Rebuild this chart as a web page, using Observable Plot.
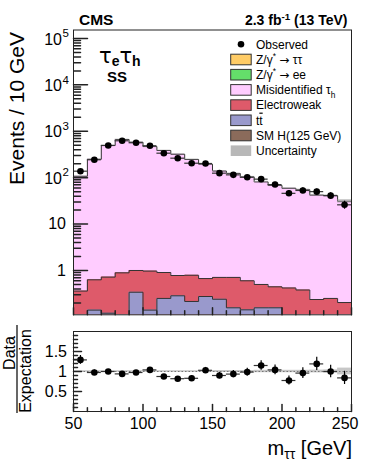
<!DOCTYPE html>
<html><head><meta charset="utf-8">
<script src="https://cdn.jsdelivr.net/npm/d3@7"></script>
<script src="https://cdn.jsdelivr.net/npm/@observablehq/plot@0.6"></script>
<style>
html,body{margin:0;padding:0;background:#fff;}
#chart{position:relative;width:366px;height:463px;font-family:"Liberation Sans",Arial,Helvetica,sans-serif;}
#chart svg{position:absolute;left:0;overflow:visible;}
</style></head><body><div id="chart"></div>
<script>
// ---- data ----
const binLow  = [50,60,70,80,90,100,110,120,130,140,150,160,170,180,190,200,210,220,230,240];
const binHigh = [60,70,80,90,100,110,120,130,140,150,160,170,180,190,200,210,220,230,240,250];
const misid       = [106.6,248,493,663,579,467,384,319,246,195,138.3,122.3,103.4,80.5,67.6,58.6,54.6,41.8,40.7,30.8];
const electroweak = [0.36,0.49,0.60,0.89,0.66,0.83,0.655,0.495,0.575,0.395,0.47,0.553,0.458,0.343,0.288,0.42,0.38,0.237,0.25,0.204];
const ttbar       = [0,0.14,0.12,0,0.34,0.14,0.25,0.285,0.215,0.275,0.24,0.157,0.142,0.157,0.157,0,0,0,0,0];
const observed    = [138,243,494,624,565,487,337,263,205,202,125,115,102,93,71,46,53,50,41,26];
const observedErr = [11.7,15.6,22.2,25,23.8,22.1,18.4,16.2,14.3,14.2,11.2,10.7,10.1,9.6,8.4,6.8,7.3,7.1,6.4,5.1];
const ratio       = [1.29,0.975,1.0,0.94,0.975,1.04,0.875,0.82,0.83,1.03,0.9,0.935,0.985,1.15,1.04,0.775,0.96,1.19,1.0,0.84];
const ratioErr    = [0.11,0.063,0.045,0.038,0.041,0.047,0.048,0.051,0.058,0.072,0.08,0.087,0.098,0.119,0.123,0.114,0.132,0.168,0.156,0.165];
const uncRel      = [0.02,0.02,0.02,0.02,0.02,0.02,0.02,0.02,0.02,0.02,0.025,0.025,0.025,0.03,0.03,0.03,0.03,0.035,0.04,0.085];

const yMajor = [1,10,100,1000,10000,100000];
const yPlainLabels = [{v:1,t:"1"},{v:10,t:"10"}];
const yExpLabels = [{v:100,e:"2"},{v:1000,e:"3"},{v:10000,e:"4"},{v:100000,e:"5"}];
const xMajor = [50,100,150,200,250];
const xMinor = [60,70,80,90,110,120,130,140,160,170,180,190,210,220,230,240];
const xLabels = ["50","100","150","200","250"];
const rMajor = [0.5,1,1.5];
const rMinor = [0.1,0.2,0.3,0.4,0.6,0.7,0.8,0.9,1.1,1.2,1.3,1.4,1.6,1.7,1.8,1.9];
const rLabels = ["0.5","1","1.5"];

const colors = {ztt:"#ffcc66", zee:"#64de6a", misid:"#ffccff", ewk:"#de5a6a", tt:"#9999cc", smh:"#8b6b5b", unc:"#b8b8b8"};

// ---- derived table ----
const floor = 1e-3;
const bins = binLow.map((lo,i)=>{
  const tt = ttbar[i], ew = tt + electroweak[i], tot = ew + misid[i];
  return {lo, hi: binHigh[i], c:(lo+binHigh[i])/2, tt, ew, tot,
          obs: observed[i], err: observedErr[i], r: ratio[i], rerr: ratioErr[i], u: uncRel[i]};
});
const stepPts = key => [...bins.map(b=>({x:b.lo, y:Math.max(b[key],floor)})), {x:binHigh[binHigh.length-1], y:Math.max(bins[bins.length-1][key],floor)}];
const tickShape = {draw(ctx, l){ ctx.moveTo(0,0); ctx.lineTo(0,-l); }};
const yMinor = [];
for (const d of [0.1,1,10,100,1000,10000]) for (let k=2;k<=9;k++) yMinor.push(d*k);

const FONT = '"Liberation Sans",Arial,Helvetica,sans-serif';
const root = document.getElementById("chart");

function stackLayer(key, fill){
  return [
    Plot.areaY(stepPts(key),{x:"x",y1:floor,y2:"y",curve:"step-after",fill,clip:true}),
    Plot.line(stepPts(key),{x:"x",y:"y",curve:"step-after",stroke:"#333",strokeWidth:1,clip:true})
  ];
}

// ---- main panel ----
const main = Plot.plot({
  width:366, height:320,
  marginLeft:73, marginRight:15, marginTop:29.5, marginBottom:5.7,
  style:{fontFamily:FONT, fontSize:"16px", color:"#000", background:"transparent"},
  x:{domain:[50,250], axis:null},
  y:{type:"log", domain:[0.111,1.52e5], axis:null},
  marks:[
    ...stackLayer("tot", colors.misid),
    ...stackLayer("ew", colors.ewk),
    ...stackLayer("tt", colors.tt),
    Plot.rect(bins,{x1:"lo",x2:"hi",y1:d=>d.tot*(1-d.u),y2:d=>d.tot*(1+d.u),fill:"#999",fillOpacity:0.55,clip:true}),
    Plot.ruleY(bins,{y:"obs",x1:"lo",x2:"hi",stroke:"#333",strokeWidth:1.2}),
    Plot.ruleX(bins,{x:"c",y1:d=>d.obs-d.err,y2:d=>d.obs+d.err,stroke:"#000",strokeWidth:1.2}),
    Plot.dot(bins,{x:"c",y:"obs",r:3.3,fill:"#000"}),
    Plot.vector(yMajor,{y:d=>d,frameAnchor:"left",length:14,rotate:90,anchor:"start",shape:tickShape,stroke:"#222"}),
    Plot.vector(yMinor,{y:d=>d,frameAnchor:"left",length:7,rotate:90,anchor:"start",shape:tickShape,stroke:"#222",clip:true}),
    Plot.vector(xMajor,{x:d=>d,frameAnchor:"bottom",length:7,rotate:0,anchor:"start",shape:tickShape,stroke:"#222"}),
    Plot.vector(xMinor,{x:d=>d,frameAnchor:"bottom",length:4,rotate:0,anchor:"start",shape:tickShape,stroke:"#222"}),
    Plot.text(yPlainLabels,{y:"v",text:"t",frameAnchor:"left",textAnchor:"end",dx:-7.5,fontSize:16,fill:"#000"}),
    Plot.text(yExpLabels,{y:"v",text:()=>"10",frameAnchor:"left",textAnchor:"end",dx:-11.5,dy:1,fontSize:16,fill:"#000"}),
    Plot.text(yExpLabels,{y:"v",text:"e",frameAnchor:"left",textAnchor:"start",dx:-11,dy:-5,fontSize:11.5,fill:"#000"}),
    Plot.frame({stroke:"#222",strokeWidth:1})
  ]
});
main.style.top = "0px";
root.appendChild(main);

const ms = d3.select(main);
function rich(sel, parts){
  let shift = 0;
  for (const [t,k] of parts){
    const ts = sel.append("tspan").text(t);
    const target = k==="sub" ? 4 : k==="sup" ? -5 : 0;
    if (target!==shift) ts.attr("dy", target-shift);
    shift = target;
    if (k==="sub"||k==="sup") ts.attr("font-size","0.7em");
    if (k==="bar") ts.attr("text-decoration","overline");
    if (k==="sym") ts.attr("font-family","DejaVu Sans");
  }
  return sel;
}
// header texts
ms.append("text").attr("x",79).attr("y",25).attr("text-anchor","start").attr("font-weight","bold").attr("font-size",15.5).attr("font-family",FONT).text("CMS");
rich(ms.append("text").attr("x",347.5).attr("y",25).attr("text-anchor","end").attr("font-weight","bold").attr("font-size",14).attr("font-family",FONT),
  [["2.3 fb",""],["-1","sup"],[" (13 TeV)",""]]);
// y title
ms.append("text").attr("transform","translate(23.5,32) rotate(-90)").attr("text-anchor","end").attr("font-size",21).attr("font-family",FONT).text("Events / 10 GeV");
// channel label
const ch = ms.append("text").attr("x",99).attr("y",63).attr("text-anchor","start").attr("font-family","DejaVu Sans,"+FONT).attr("font-size",21);
ch.append("tspan").text("τ");
ch.append("tspan").attr("dy",3).attr("font-size",14).attr("font-weight","bold").attr("font-family",FONT).text("e");
ch.append("tspan").attr("dy",-3).text("τ");
ch.append("tspan").attr("dy",3).attr("font-size",14).attr("font-weight","bold").attr("font-family",FONT).text("h");
ms.append("text").attr("x",107).attr("y",82).attr("text-anchor","start").attr("font-weight","bold").attr("font-size",15).attr("font-family",FONT).text("SS");

// legend
const legendItems = [
  {type:"dot", parts:[["Observed",""]]},
  {fill:colors.ztt, parts:[["Z/γ",""],["*","sup"],[" ",""],["→","sym"],[" ττ",""]]},
  {fill:colors.zee, parts:[["Z/γ",""],["*","sup"],[" ",""],["→","sym"],[" ee",""]]},
  {fill:colors.misid, parts:[["Misidentified τ",""],["h","sub"]]},
  {fill:colors.ewk, parts:[["Electroweak",""]]},
  {fill:colors.tt, parts:[["t",""],["t","bar"]]},
  {fill:colors.smh, parts:[["SM H(125 GeV)",""]]},
  {fill:colors.unc, noStroke:true, parts:[["Uncertainty",""]]}
];
const lg = ms.append("g").attr("font-family",FONT).attr("font-size",12).attr("text-anchor","start");
legendItems.forEach((it,i)=>{
  const cy = 44.3 + i*15.2;
  if (it.type==="dot") lg.append("circle").attr("cx",241).attr("cy",cy).attr("r",3.3).attr("fill","#000");
  else lg.append("rect").attr("x",230.7).attr("y",cy-5.3).attr("width",20.5).attr("height",10.6)
        .attr("fill",it.fill).attr("stroke",it.noStroke?"none":"#333").attr("stroke-width",1);
  rich(lg.append("text").attr("x",256).attr("y",cy+4.3).attr("text-anchor","start"), it.parts);
});

// ---- ratio panel ----
const rp = Plot.plot({
  width:366, height:143,
  marginLeft:73, marginRight:15, marginTop:11, marginBottom:52,
  style:{fontFamily:FONT, fontSize:"16px", color:"#000", background:"transparent"},
  x:{domain:[50,250], axis:null},
  y:{domain:[0,2], axis:null},
  marks:[
    Plot.rect(bins,{x1:"lo",x2:"hi",y1:d=>1-d.u,y2:d=>1+d.u,fill:"#999",fillOpacity:0.55}),
    Plot.ruleY([1],{stroke:"#777",strokeDasharray:"1.5,2",strokeWidth:1}),
    Plot.ruleY(bins,{y:"r",x1:"lo",x2:"hi",stroke:"#333",strokeWidth:1.2}),
    Plot.ruleX(bins,{x:"c",y1:d=>d.r-d.rerr,y2:d=>d.r+d.rerr,stroke:"#000",strokeWidth:1.2}),
    Plot.dot(bins,{x:"c",y:"r",r:3.3,fill:"#000"}),
    Plot.vector(rMajor,{y:d=>d,frameAnchor:"left",length:8,rotate:90,anchor:"start",shape:tickShape,stroke:"#222"}),
    Plot.vector(rMinor,{y:d=>d,frameAnchor:"left",length:4,rotate:90,anchor:"start",shape:tickShape,stroke:"#222"}),
    Plot.vector(xMajor,{x:d=>d,frameAnchor:"bottom",length:7,rotate:0,anchor:"start",shape:tickShape,stroke:"#222"}),
    Plot.vector(xMinor,{x:d=>d,frameAnchor:"bottom",length:3.7,rotate:0,anchor:"start",shape:tickShape,stroke:"#222"}),
    Plot.text(rMajor,{y:d=>d,text:(d,i)=>rLabels[i],frameAnchor:"left",textAnchor:"end",dx:-6.5,fontSize:16,fill:"#000"}),
    Plot.text(xMajor.slice(0,4),{x:d=>d,text:(d,i)=>xLabels[i],frameAnchor:"bottom",lineAnchor:"top",dy:6,fontSize:16,fill:"#000"}),
    Plot.text(xMajor.slice(4),{x:d=>d,text:(d,i)=>xLabels[4+i],frameAnchor:"bottom",lineAnchor:"top",textAnchor:"end",dx:7,dy:6,fontSize:16,fill:"#000"}),
    Plot.frame({stroke:"#222",strokeWidth:1})
  ]
});
rp.style.top = "320px";
root.appendChild(rp);
const rs = d3.select(rp);
rich(rs.append("text").attr("x",352).attr("y",135).attr("text-anchor","end").attr("font-size",20).attr("font-family",FONT),
  [["m",""],["ττ","sub"],[" [GeV]",""]]);
const rt = rs.append("g").attr("transform","translate(0,51) rotate(-90)").attr("font-family",FONT).attr("font-size",16);
rt.append("text").attr("x",18).attr("y",14.5).attr("text-anchor","middle").text("Data");
rt.append("line").attr("x1",-42).attr("x2",46).attr("y1",17).attr("y2",17).attr("stroke","#000").attr("stroke-width",1.2);
rt.append("text").attr("x",0).attr("y",30.5).attr("text-anchor","middle").text("Expectation");
</script></body></html>
